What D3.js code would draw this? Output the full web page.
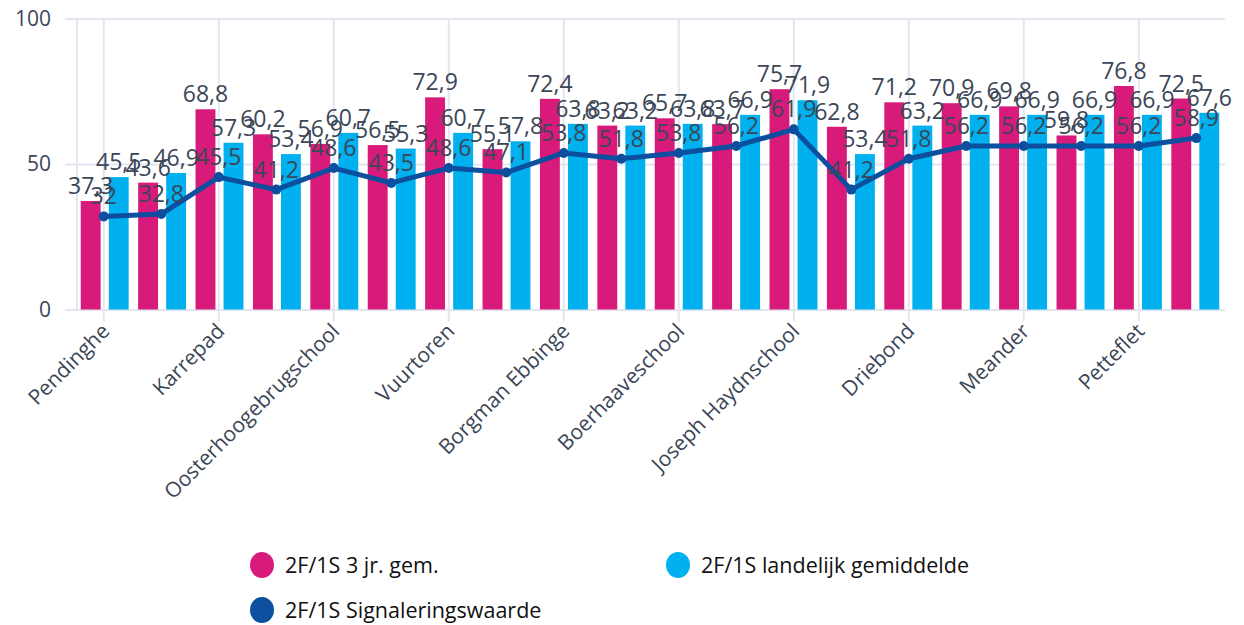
<!DOCTYPE html>
<html>
<head>
<meta charset="utf-8">
<script src="https://cdn.jsdelivr.net/npm/d3@7"></script>
<style>
  html, body { margin: 0; padding: 0; background: #fff; }
  #chart { width: 1244px; height: 625px; }
  text { font-family: "Open Sans", sans-serif; }
</style>
</head>
<body>
<div id="chart"></div>
<script>
// Schools (only every other name is shown on the axis)
const categories = [
  "Pendinghe", "", "Karrepad", "", "Oosterhoogebrugschool", "",
  "Vuurtoren", "", "Borgman Ebbinge", "", "Boerhaaveschool", "",
  "Joseph Haydnschool", "", "Driebond", "", "Meander", "", "Petteflet", ""
]
const gem3jr = [37.3, 43.6, 68.8, 60.2, 56.9, 56.5, 72.9, 55.1, 72.4, 63.2,
                65.7, 63.7, 75.7, 62.8, 71.2, 70.9, 69.8, 59.8, 76.8, 72.5]
const landelijk = [45.5, 46.9, 57.3, 53.4, 60.7, 55.3, 60.7, 57.8, 63.8, 63.2,
                   63.8, 66.9, 71.9, 53.4, 63.2, 66.9, 66.9, 66.9, 66.9, 67.6]
const signalering = [32, 32.8, 45.5, 41.2, 48.6, 43.5, 48.6, 47.1, 53.8, 51.8,
                     53.8, 56.2, 61.9, 41.2, 51.8, 56.2, 56.2, 56.2, 56.2, 58.9]
const yTicks = [0, 50, 100]
const seriesNames = ["2F/1S 3 jr. gem.", "2F/1S landelijk gemiddelde", "2F/1S Signaleringswaarde"]

const colors = { pink: "#d81b7b", cyan: "#00b0ef", line: "#0b4f9e", grid: "#e3e6f1", text: "#3b4656" }
const fmt = v => String(v).replace(".", ",")

const width = 1244, height = 625
const margin = { top: 18.5, right: 19, bottom: 315.5, left: 75 }

const svg = d3.select("#chart").append("svg")
  .attr("width", width)
  .attr("height", height)

const idx = categories.map((d, i) => i)

const x0 = d3.scaleBand()
  .domain(idx)
  .range([margin.left, width - margin.right])
  .paddingInner(0.165)
  .paddingOuter(0.1)

const x1 = d3.scaleBand()
  .domain(["gem", "land"])
  .range([0, x0.bandwidth()])
  .paddingInner(0.29)

const y = d3.scaleLinear()
  .domain([0, 100])
  .range([height - margin.bottom, margin.top])

const center = i => margin.left + (i + 0.5) * (width - margin.left - margin.right) / categories.length

// Horizontal grid + y labels
const yAxis = svg.append("g")
  .attr("transform", `translate(${margin.left},0)`)
  .call(d3.axisLeft(y).tickValues(yTicks).tickSize(10).tickFormat(d3.format("d")))
yAxis.select(".domain").remove()
yAxis.selectAll(".tick line")
  .attr("x2", width - margin.right - margin.left)
  .attr("x1", -10)
  .attr("stroke", colors.grid)
  .attr("stroke-width", 2)
yAxis.selectAll(".tick text")
  .attr("x", -24)
  .attr("fill", colors.text)
  .style("font-size", "21px")

// Left border line
svg.append("line")
  .attr("x1", margin.left + 2).attr("x2", margin.left + 2)
  .attr("y1", y(100)).attr("y2", y(0))
  .attr("stroke", colors.grid).attr("stroke-width", 2)

// Vertical grid at labelled categories
const labelled = idx.filter(i => categories[i] !== "")
svg.append("g").selectAll("line")
  .data(labelled)
  .join("line")
  .attr("x1", d => center(d)).attr("x2", d => center(d))
  .attr("y1", y(100)).attr("y2", y(0) + 12)
  .attr("stroke", colors.grid).attr("stroke-width", 2)

// x labels
svg.append("g").selectAll("text")
  .data(labelled)
  .join("text")
  .attr("transform", d => `translate(${center(d) + 7},${y(0) + 23}) rotate(-45)`)
  .attr("text-anchor", "end")
  .attr("fill", colors.text)
  .style("font-size", "21px")
  .text(d => categories[d])

// Bars
const groups = svg.append("g").selectAll("g")
  .data(idx)
  .join("g")
  .attr("transform", d => `translate(${x0(d)},0)`)

groups.append("rect")
  .attr("x", x1("gem"))
  .attr("width", x1.bandwidth())
  .attr("y", d => y(gem3jr[d]))
  .attr("height", d => y(0) - y(gem3jr[d]))
  .attr("fill", colors.pink)

groups.append("rect")
  .attr("x", x1("land"))
  .attr("width", x1.bandwidth())
  .attr("y", d => y(landelijk[d]))
  .attr("height", d => y(0) - y(landelijk[d]))
  .attr("fill", colors.cyan)

// Line
const line = d3.line()
  .x((d, i) => center(i))
  .y(d => y(d))

svg.append("path")
  .datum(signalering)
  .attr("d", line)
  .attr("fill", "none")
  .attr("stroke", colors.line)
  .attr("stroke-width", 5)
  .attr("stroke-linejoin", "round")

svg.append("g").selectAll("circle")
  .data(signalering)
  .join("circle")
  .attr("cx", (d, i) => center(i))
  .attr("cy", d => y(d))
  .attr("r", 5)
  .attr("fill", colors.line)

// Value labels
const labels = svg.append("g")
  .attr("fill", colors.text)
  .attr("text-anchor", "middle")
  .style("font-size", "23px")

labels.selectAll(".lg")
  .data(idx)
  .join("text")
  .attr("class", "lg")
  .attr("x", d => x0(d) + x1("gem") + x1.bandwidth() / 2)
  .attr("y", d => y(gem3jr[d]) - 7)
  .text(d => fmt(gem3jr[d]))

labels.selectAll(".ll")
  .data(idx)
  .join("text")
  .attr("class", "ll")
  .attr("x", d => x0(d) + x1("land") + x1.bandwidth() / 2)
  .attr("y", d => y(landelijk[d]) - 7)
  .text(d => fmt(landelijk[d]))

labels.selectAll(".ls")
  .data(idx)
  .join("text")
  .attr("class", "ls")
  .attr("x", d => center(d))
  .attr("y", d => y(signalering[d]) - 12)
  .text(d => fmt(signalering[d]))

// Legend
const legendItems = [
  { name: seriesNames[0], color: colors.pink, x: 262, y: 565 },
  { name: seriesNames[1], color: colors.cyan, x: 678, y: 565 },
  { name: seriesNames[2], color: colors.line, x: 262, y: 610 }
]
const legend = svg.append("g").selectAll("g")
  .data(legendItems)
  .join("g")
  .attr("transform", d => `translate(${d.x},${d.y})`)
legend.append("ellipse")
  .attr("rx", 12).attr("ry", 13)
  .attr("fill", d => d.color)
legend.append("text")
  .attr("x", 23)
  .attr("dy", "0.35em")
  .attr("fill", "#111")
  .style("font-size", "21.5px")
  .text(d => d.name)
</script>
</body>
</html>
